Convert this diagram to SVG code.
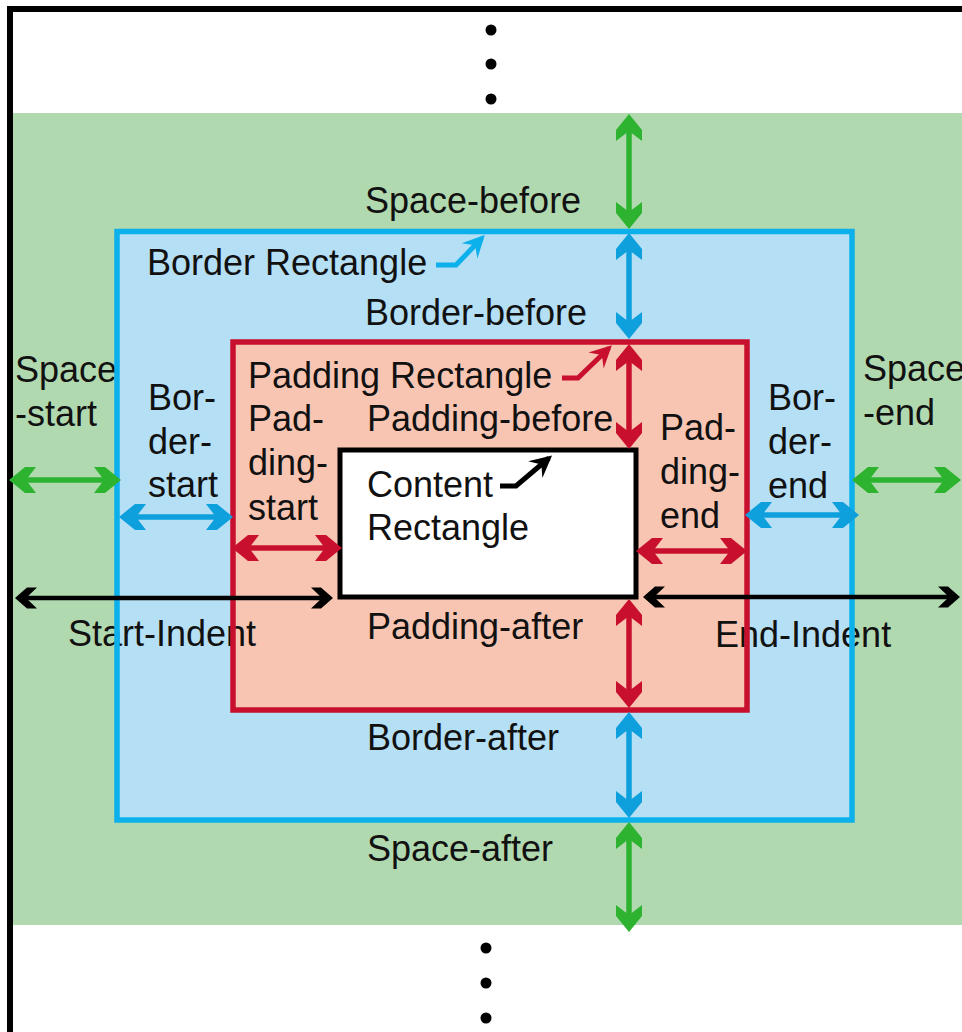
<svg xmlns="http://www.w3.org/2000/svg" width="962" height="1032" viewBox="0 0 962 1032">
<style>
.t{font-family:"Liberation Sans",Arial,sans-serif;font-size:36px;fill:#111;}
.g{stroke:#2db32f;stroke-width:5.5;fill:none;marker-start:url(#hg);marker-end:url(#hg);}
.b{stroke:#0e9fdd;stroke-width:5.5;fill:none;marker-start:url(#hb);marker-end:url(#hb);}
.r{stroke:#c8102e;stroke-width:5.5;fill:none;marker-start:url(#hr);marker-end:url(#hr);}
.k{stroke:#000;stroke-width:4.5;fill:none;marker-start:url(#hk);marker-end:url(#hk);}
.pb{stroke:#0cb0ea;stroke-width:5;fill:none;marker-end:url(#pb);}
.pr{stroke:#c8102e;stroke-width:5;fill:none;marker-end:url(#pr);}
.pk{stroke:#000;stroke-width:5;fill:none;marker-end:url(#pk);}
</style>
<defs>
<marker id="hg" markerUnits="userSpaceOnUse" viewBox="-30 -15 40 30" markerWidth="40" markerHeight="30" refX="0" refY="0" orient="auto-start-reverse"><path d="M4,0 L-12,-13 L-23,-13 L-13,0 L-23,13 L-12,13 Z" fill="#2db32f"/></marker>
<marker id="hb" markerUnits="userSpaceOnUse" viewBox="-30 -15 40 30" markerWidth="40" markerHeight="30" refX="0" refY="0" orient="auto-start-reverse"><path d="M4,0 L-12,-13 L-23,-13 L-13,0 L-23,13 L-12,13 Z" fill="#0e9fdd"/></marker>
<marker id="hr" markerUnits="userSpaceOnUse" viewBox="-30 -15 40 30" markerWidth="40" markerHeight="30" refX="0" refY="0" orient="auto-start-reverse"><path d="M4,0 L-12,-13 L-23,-13 L-13,0 L-23,13 L-12,13 Z" fill="#c8102e"/></marker>
<marker id="hk" markerUnits="userSpaceOnUse" viewBox="-30 -15 40 30" markerWidth="40" markerHeight="30" refX="0" refY="0" orient="auto-start-reverse"><path d="M3,0 L-9,-10.5 L-19,-10.5 L-8,0 L-19,10.5 L-9,10.5 Z" fill="#000"/></marker>
<marker id="pb" markerUnits="userSpaceOnUse" viewBox="-30 -15 40 30" markerWidth="40" markerHeight="30" refX="0" refY="0" orient="auto"><path d="M4,0 L-18,-11 L-10,0 L-18,11 Z" fill="#0cb0ea"/></marker>
<marker id="pr" markerUnits="userSpaceOnUse" viewBox="-30 -15 40 30" markerWidth="40" markerHeight="30" refX="0" refY="0" orient="auto"><path d="M4,0 L-18,-11 L-10,0 L-18,11 Z" fill="#c8102e"/></marker>
<marker id="pk" markerUnits="userSpaceOnUse" viewBox="-30 -15 40 30" markerWidth="40" markerHeight="30" refX="0" refY="0" orient="auto"><path d="M4,0 L-18,-11 L-10,0 L-18,11 Z" fill="#000"/></marker>
</defs>

<rect x="0" y="0" width="962" height="1032" fill="#fff"/>

<g id="areas">
<rect id="space-area" x="13" y="113" width="949" height="812" fill="#b1d9b0"/>
<rect id="border-fill" x="117" y="231.5" width="735" height="588.5" fill="#b4dff5"/>
<rect id="padding-fill" x="233" y="342" width="514" height="368" fill="#f8c5b3"/>
<rect id="content-fill" x="340" y="450" width="296" height="147" fill="#fff"/>
</g>

<g id="frame">
<path d="M10,1032 V9 H970" fill="none" stroke="#000" stroke-width="6"/>
</g>

<g id="dots">
<circle cx="491" cy="30" r="5.5"/>
<circle cx="491" cy="64" r="5.5"/>
<circle cx="491" cy="99" r="5.5"/>
<circle cx="486" cy="948" r="5.5"/>
<circle cx="486" cy="983" r="5.5"/>
<circle cx="486" cy="1018" r="5.5"/>
</g>

<g id="labels">
<text class="t" x="365" y="213">Space-before</text>
<text class="t" x="147" y="275">Border Rectangle</text>
<text class="t" x="365" y="325">Border-before</text>
<text class="t" x="15" y="382">Space</text>
<text class="t" x="15" y="426">-start</text>
<text class="t" x="148" y="410">Bor-</text>
<text class="t" x="148" y="454">der-</text>
<text class="t" x="148" y="497">start</text>
<text class="t" x="248" y="388">Padding Rectangle</text>
<text class="t" x="248" y="431">Pad-</text>
<text class="t" x="248" y="475">ding-</text>
<text class="t" x="248" y="520">start</text>
<text class="t" x="367" y="431">Padding-before</text>
<text class="t" x="367" y="497">Content</text>
<text class="t" x="367" y="540">Rectangle</text>
<text class="t" x="660" y="440">Pad-</text>
<text class="t" x="660" y="484">ding-</text>
<text class="t" x="660" y="528">end</text>
<text class="t" x="768" y="410">Bor-</text>
<text class="t" x="768" y="454">der-</text>
<text class="t" x="768" y="498">end</text>
<text class="t" x="863" y="381">Space</text>
<text class="t" x="863" y="425">-end</text>
<text class="t" x="68" y="646">Start-Indent</text>
<text class="t" x="367" y="639">Padding-after</text>
<text class="t" x="715" y="647">End-Indent</text>
<text class="t" x="367" y="750">Border-after</text>
<text class="t" x="367" y="861">Space-after</text>
</g>

<g id="border-rectangle">
<rect x="117" y="231.5" width="735" height="588.5" fill="none" stroke="#0cb0ea" stroke-width="5.5"/>
</g>
<g id="padding-rectangle">
<rect x="233" y="342" width="514" height="368" fill="none" stroke="#c8102e" stroke-width="5.5"/>
</g>
<g id="content-rectangle">
<rect x="340" y="450" width="296" height="147" fill="none" stroke="#000" stroke-width="5"/>
</g>

<g id="connectors">
<line class="g" x1="629" y1="118" x2="629" y2="225"/>
<line class="b" x1="629" y1="237" x2="629" y2="335"/>
<line class="r" x1="629" y1="348" x2="629" y2="445"/>
<line class="r" x1="629" y1="603" x2="629" y2="704"/>
<line class="b" x1="629" y1="716" x2="629" y2="814"/>
<line class="g" x1="629" y1="826" x2="629" y2="928"/>
<line class="g" x1="13" y1="480" x2="117" y2="480"/>
<line class="b" x1="123" y1="517" x2="229" y2="517"/>
<line class="r" x1="236" y1="548" x2="338" y2="548"/>
<line class="k" x1="18" y1="598" x2="330" y2="598"/>
<line class="r" x1="640" y1="551" x2="743" y2="551"/>
<line class="b" x1="749" y1="515" x2="855" y2="515"/>
<line class="g" x1="856" y1="480" x2="957" y2="480"/>
<line class="k" x1="646" y1="597" x2="957" y2="597"/>
<path class="pb" d="M436,265 H456 L482,238"/>
<path class="pr" d="M562,378 H578 L609,348"/>
<path class="pk" d="M500,486 H516 L549,458"/>
</g>
</svg>
